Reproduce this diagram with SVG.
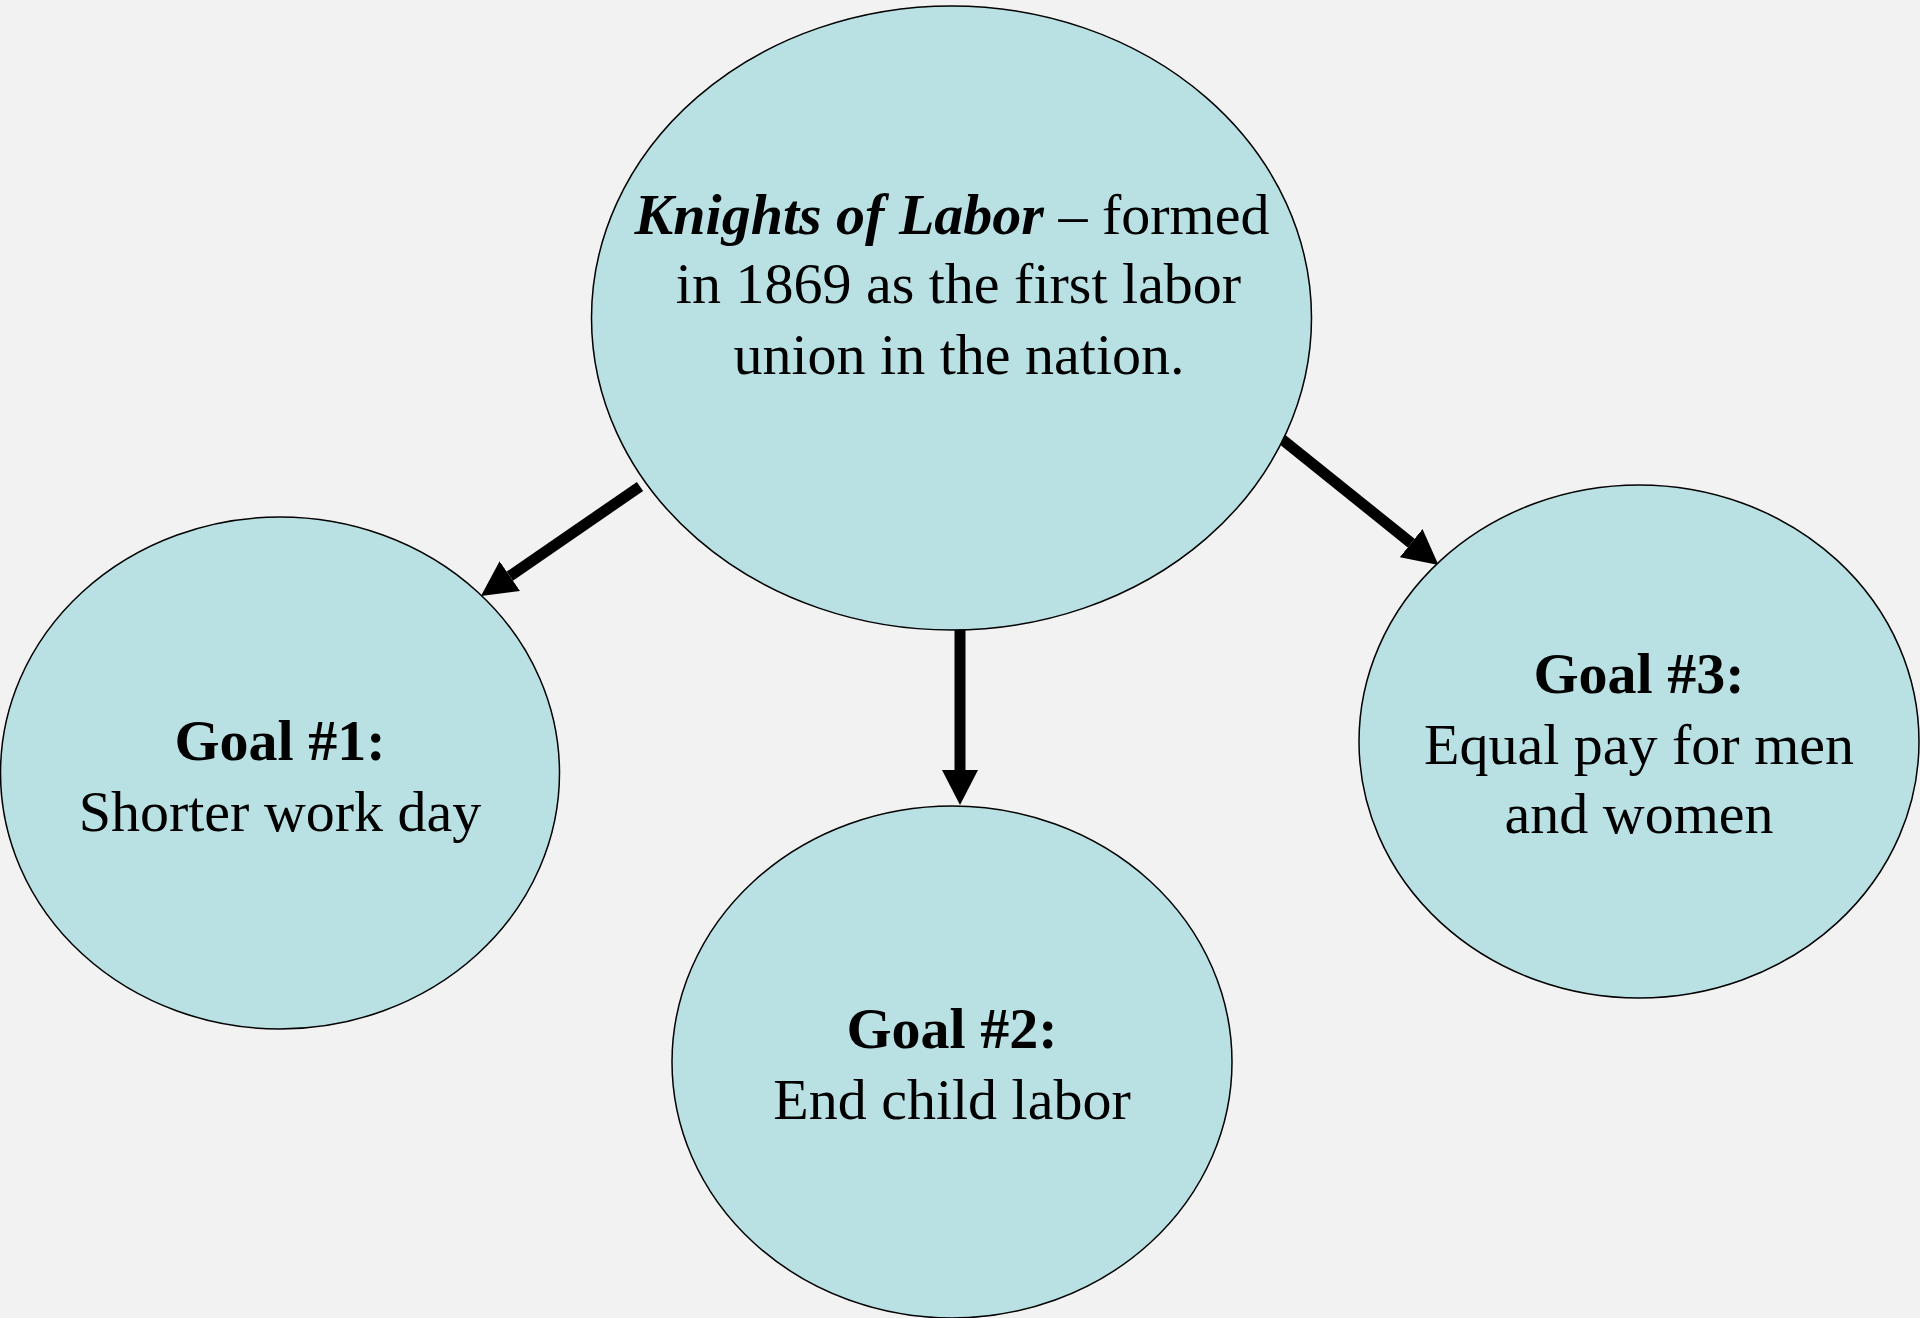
<svg xmlns="http://www.w3.org/2000/svg" width="1920" height="1318" viewBox="0 0 1920 1318">
  <style>
    .node { fill: #b9e0e3; stroke: #000; stroke-width: 1.5; }
    .txt { font-family: "Liberation Serif", "Times New Roman", serif; font-size: 58px; fill: #000; text-anchor: middle; }
    .b { font-weight: bold; }
    .bi { font-weight: bold; font-style: italic; }
    .conn { stroke: #000; stroke-width: 11; fill: none; marker-end: url(#head); }
  </style>
  <defs>
    <marker id="head" markerUnits="userSpaceOnUse" markerWidth="35" markerHeight="36" viewBox="0 0 35 36" refX="0" refY="18" orient="auto">
      <path d="M0,0 L35,18 L0,36 Z" fill="#000"/>
    </marker>
  </defs>
  <rect width="1920" height="1318" fill="#f2f2f2"/>
  <g id="connectors">
    <line class="conn" x1="640" y1="486.5" x2="509.8" y2="576.1"/>
    <line class="conn" x1="960" y1="629" x2="960" y2="770"/>
    <line class="conn" x1="1281" y1="438.5" x2="1411.2" y2="543.1"/>
  </g>
  <g id="knights">
    <ellipse class="node" cx="951.5" cy="318" rx="360" ry="312"/>
    <text class="txt" x="952" y="233.5"><tspan class="bi">Knights of Labor</tspan> – formed</text>
    <text class="txt" x="958.5" y="303">in 1869 as the first labor</text>
    <text class="txt" x="959" y="373.5">union in the nation.</text>
  </g>
  <g id="goal1">
    <ellipse class="node" cx="280" cy="773" rx="279.5" ry="256"/>
    <text class="txt b" x="280" y="760">Goal #1:</text>
    <text class="txt" x="280" y="830.5">Shorter work day</text>
  </g>
  <g id="goal2">
    <ellipse class="node" cx="952" cy="1062" rx="280" ry="256"/>
    <text class="txt b" x="952" y="1048">Goal #2:</text>
    <text class="txt" x="952" y="1118.5">End child labor</text>
  </g>
  <g id="goal3">
    <ellipse class="node" cx="1639" cy="741.5" rx="280" ry="256.5"/>
    <text class="txt b" x="1639" y="692.5">Goal #3:</text>
    <text class="txt" x="1639" y="764">Equal pay for men</text>
    <text class="txt" x="1639" y="833">and women</text>
  </g>
</svg>
